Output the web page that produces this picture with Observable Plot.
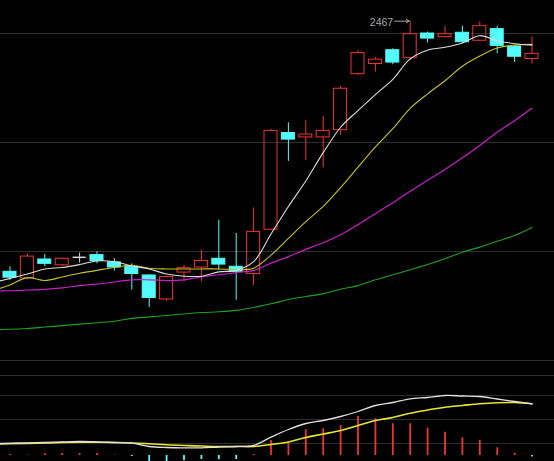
<!DOCTYPE html>
<html><head><meta charset="utf-8">
<script src="https://cdn.jsdelivr.net/npm/d3@7"></script>
<script src="https://cdn.jsdelivr.net/npm/@observablehq/plot@0.6"></script>
<style>
html,body{margin:0;padding:0;background:#000;}
#chart{width:554px;height:461px;overflow:hidden;background:#000}
#chart svg{display:block}
</style></head><body><div id="chart"></div>
<script>
// Candles (index 0..30)
const open  = [2122,2113,2139,2131,2142,2145,2135,2129,2117,2084,2121,2128,2140,2129,2119,2180,2313,2307,2307,2317,2394,2408,2427,2416,2450,2445,2451,2440,2456,2432,2415];
const high  = [2129,2147,2146,2141,2148,2150,2140,2133,2118,2116,2131,2152,2193,2175,2210,2318,2327,2330,2336,2377,2427,2417,2429,2467,2452,2460,2460,2466,2460,2433,2445];
const low   = [2110,2111,2129,2129,2134,2133,2123,2097,2073,2081,2108,2108,2124,2083,2103,2179,2274,2275,2265,2310,2392,2397,2407,2413,2437,2444,2436,2439,2422,2410,2408];
const close = [2114,2143,2133,2140,2142,2137,2128,2119,2086,2115,2127,2137,2132,2122,2177,2316,2304,2311,2316,2374,2423,2414,2410,2449,2443,2449,2438,2460,2433,2418,2422];
// Moving averages (index -1..30; the first value belongs to the candle just off the left edge)
const ma5  = [2107,2113,2119,2126,2128,2132,2137,2136,2130,2126,2119,2116,2116,2122,2124,2136,2174,2212,2247,2286,2321,2344,2366,2387,2415,2427,2431,2437,2447,2440,2436,2434];
const ma10 = [2096,2104,2114,2110,2115,2120,2124,2128,2131,2127,2126,2126,2126,2126,2125,2127,2145,2168,2191,2212,2238,2266,2294,2319,2347,2367,2385,2405,2419,2430,2434,2435];
const ma20 = [2096,2096,2097,2098,2100,2103,2105,2108,2111,2111,2110,2111,2115,2118,2121,2124,2134,2143,2153,2162,2173,2187,2202,2217,2233,2248,2263,2279,2296,2314,2330,2347];
const ma60 = [2042,2043,2044,2046,2048,2050,2052,2054,2058,2060,2062,2064,2066,2067,2069,2073,2078,2084,2088,2092,2098,2103,2111,2118,2125,2132,2140,2149,2156,2164,2172,2183];
// MACD panel (dif/dea index -1..30, histogram index 0..30)
const dif  = [12,12.3,12.7,13,13.5,14,13.7,13,12.3,9,8,7.7,7.7,8.5,9,10,18.3,26,32,35,39,44,50,53,56.7,58,60,59.5,59,56.5,54,51.7];
const dea  = [11.5,11.7,12,12.5,13,13.3,13.3,13,12.5,11.8,10.7,10,9.5,9,9,9,11,13.5,18,21.5,25,30,35,38,42.3,45.5,48.3,50,51.7,52.7,53,51.7];
const macd = [1,0.5,2,2,2,2,0.5,-1,-7,-6,-5,-4,-4,-4,1,15,13,25.7,26.7,30,39,36.7,31.7,31.7,27.3,23.3,17.7,15,7.7,2.3,-1.5];
// Grid / tick values
const priceGrid = [2000,2150,2300,2450];
const macdGrid  = [12,36,60,80];
const peakLabel = "2467";

const UP = "#f03434", DOWN = "#54fcfc", FLAT = "#d8d8d8";
const candles = open.map((o,i)=>({i, o, h:high[i], l:low[i], c:close[i]}));
const rows = arr => arr.map((v,k)=>({i:k-1, v}));
const col = d => d.c>d.o ? UP : d.c<d.o ? DOWN : FLAT;
const half = 0.374;
const xScale = {domain:[0,30], range:[9.5,531.5], axis:null};
const peak = candles.reduce((a,b)=> b.h>a.h ? b : a);
const nonFlat = candles.filter(d=>d.c!==d.o);
const flat = candles.filter(d=>d.c===d.o);
const curve = "catmull-rom";

const main = Plot.plot({
  width:554, height:368, margin:0,
  style:{background:"#000", overflow:"hidden"},
  x:xScale,
  y:{domain:[2000,2450], range:[360,33], axis:null},
  marks:[
    Plot.ruleY(priceGrid, {stroke:"#2e2e2e", strokeWidth:1}),
    Plot.ruleX(candles, {x:"i", y1:"h", y2:d=>Math.max(d.o,d.c), stroke:col, strokeWidth:1}),
    Plot.ruleX(candles, {x:"i", y1:d=>Math.min(d.o,d.c), y2:"l", stroke:col, strokeWidth:1}),
    Plot.rect(nonFlat, {x1:d=>d.i-half, x2:d=>d.i+half, y1:"o", y2:"c",
      fill:d=>d.c<d.o?DOWN:"none", stroke:col, strokeWidth:1}),
    Plot.ruleY(flat, {y:"c", x1:d=>d.i-half, x2:d=>d.i+half, stroke:FLAT, strokeWidth:1.5}),
    Plot.line(rows(ma60), {x:"i", y:"v", stroke:"#20a020", strokeWidth:1.1, curve, clip:true}),
    Plot.line(rows(ma20), {x:"i", y:"v", stroke:"#c81ec8", strokeWidth:1.2, curve, clip:true}),
    Plot.line(rows(ma10), {x:"i", y:"v", stroke:"#c4c424", strokeWidth:1.1, curve, clip:true}),
    Plot.line(rows(ma5),  {x:"i", y:"v", stroke:"#dcdcdc", strokeWidth:1.1, curve, clip:true}),
    Plot.arrow([peak], {x1:d=>d.i-0.89, x2:d=>d.i-0.06, y1:"h", y2:"h", stroke:"#a8a8a8", strokeWidth:1, headLength:5}),
    Plot.text([peak], {x:"i", y:"h", text:()=>peakLabel, dx:-17, dy:1, textAnchor:"end",
      fill:"#a8a8a8", fontSize:10.5, fontFamily:"Liberation Sans, Arial, sans-serif"})
  ]
});

const sub = Plot.plot({
  width:554, height:93, margin:0,
  style:{background:"#000", overflow:"hidden"},
  x:xScale,
  y:{domain:[0,80], range:[87,7], axis:null},
  marks:[
    Plot.ruleY(macdGrid, {stroke:"#2e2e2e", strokeWidth:1}),
    Plot.ruleX(macd.map((v,i)=>({i,v})), {x:"i", y1:0, y2:"v", stroke:d=>d.v>=0?UP:DOWN, strokeWidth:1.8, clip:true}),
    Plot.line(rows(dea), {x:"i", y:"v", stroke:"#e6e62a", strokeWidth:1.6, curve, clip:true}),
    Plot.line(rows(dif), {x:"i", y:"v", stroke:"#e0e0e0", strokeWidth:1.3, curve, clip:true})
  ]
});

const root = document.getElementById("chart");
root.appendChild(main);
root.appendChild(sub);
</script></body></html>
